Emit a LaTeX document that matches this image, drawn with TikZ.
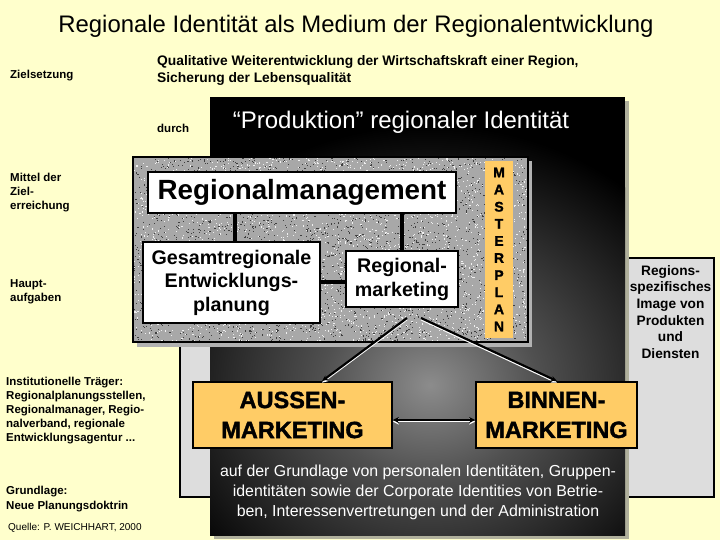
\documentclass[tikz,border=0pt]{standalone}
\usepackage{fontspec}
\setmainfont{Liberation Sans}
\newfontfamily\heavyf[FakeBold=1.6]{Liberation Sans Bold}
\usetikzlibrary{arrows.meta}
\definecolor{bgyellow}{HTML}{FFFFCC}
\definecolor{boxorange}{HTML}{FFCC66}
\definecolor{lgray}{HTML}{DDDDDD}
\definecolor{dshadow}{HTML}{B0B09C}
\definecolor{granite}{HTML}{A8A8A8}
\definecolor{glowc}{HTML}{8C8C8C}
\definecolor{glowm}{HTML}{505050}
\pgfdeclareradialshading{glow}{\pgfpoint{0bp}{0bp}}{color(0bp)=(glowc); color(9bp)=(glowm); color(25bp)=(black); color(50bp)=(black)}
\tikzset{
  lbl/.style={anchor=north west, inner sep=0pt, align=left, font=\bfseries\fontsize{11.5}{14.2}\selectfont},
  wbox/.style={draw=black, line width=1.8pt, fill=white, inner sep=0pt, font=\bfseries, align=center},
  obox/.style={draw=black, line width=1.8pt, fill=boxorange, inner sep=0pt, font=\heavyf\fontsize{23.5}{30}\selectfont, align=center},
  conn/.style={line width=4pt, black},
  hl/.style={white, line width=1.6pt, transform canvas={yshift=-1.6pt}},
  ln/.style={black, line width=2.2pt},
}
\begin{document}
\begin{tikzpicture}[x=1pt,y=-1pt]
\useasboundingbox (0,0) rectangle (720,540);
\fill[bgyellow] (0,0) rectangle (720,540);

% title
\node[inner sep=0pt, font=\fontsize{23.9}{28}\selectfont] (title) at (356,26) {Regionale Identität als Medium der Regionalentwicklung};

% left labels
\node[lbl] (ziel) at (10,69.5) {Zielsetzung};
\node[lbl] (mittel) at (10,172.5) {Mittel der\\Ziel-\\erreichung};
\node[lbl] (haupt) at (10,279.5) {Haupt-\\aufgaben};
\node[lbl] (inst) at (6,376.5) {Institutionelle Träger:\\Regionalplanungsstellen,\\Regionalmanager, Regio-\\nalverband, regionale\\Entwicklungsagentur ...};
\node[lbl, font=\bfseries\fontsize{11.5}{15}\selectfont] (grund) at (6,485.5) {Grundlage:\\Neue Planungsdoktrin};
\node[lbl, font=\fontsize{10}{12}\selectfont] (quelle) at (8,523) {Quelle: P. WEICHHART, 2000};

\node[lbl, font=\bfseries\fontsize{13.8}{17}\selectfont] (quali) at (157,55) {Qualitative Weiterentwicklung der Wirtschaftskraft einer Region,\\Sicherung der Lebensqualität};
\node[lbl] (durch) at (157,123.5) {durch};

% light gray frame
\filldraw[fill=lgray, draw=black, line width=1.8pt] (180,258) rectangle (714,497);

% dark box
\fill[dshadow] (214,101) rectangle (629,539);
\fill[black] (210,97) rectangle (625,535);
\begin{scope}
  \clip (210,97) rectangle (625,535);
  \shade[shading=glow] (430,385) ellipse [x radius=300pt, y radius=260pt];
\end{scope}
\node[inner sep=0pt, text=white, font=\fontsize{24}{28}\selectfont] (prod) at (401,122) {“Produktion” regionaler Identität};

% granite box
\fill[gray!60] (137,161) rectangle (532,347);
\fill[granite] (133,157) rectangle (528,342);
\begin{scope}
  \clip (133,157) rectangle (528,342);
  \pgfmathsetseed{7}
  \foreach \i in {1,...,2600}{
    \pgfmathsetmacro\px{133+395*rnd}
    \pgfmathsetmacro\py{157+185*rnd}
    \fill[gray!50!black] (\px,\py) rectangle ++(1.1,1.1);
  }
  \foreach \i in {1,...,2600}{
    \pgfmathsetmacro\px{133+395*rnd}
    \pgfmathsetmacro\py{157+185*rnd}
    \fill[gray!12] (\px,\py) rectangle ++(1.1,1.1);
  }
\end{scope}
\draw[black, line width=2pt] (133,157) rectangle (528,342);

% boxes in granite
\node[wbox, minimum width=308pt, minimum height=41pt, font=\bfseries\fontsize{27.8}{30}\selectfont] (rm) at (302,192.5) {Regionalmanagement};
\node[wbox, minimum width=177pt, minimum height=81pt, font=\bfseries\fontsize{19.7}{23.5}\selectfont] (ges) at (231.5,282.5) {Gesamtregionale\\Entwicklungs-\\planung};
\node[wbox, minimum width=112pt, minimum height=56pt, font=\bfseries\fontsize{19.7}{24}\selectfont] (rmk) at (402,279) {Regional-\\marketing};
\draw[conn] (rm.south -| 235,0) -- (235,0 |- ges.north);
\draw[conn] (rm.south -| 402,0) -- (rmk.north);
\draw[conn] (ges.east |- 0,282) -- (rmk.west |- 0,282);

% masterplan
\node[fill=boxorange, inner sep=0pt, minimum width=28pt, minimum height=177pt, align=center, font=\heavyf\fontsize{14}{17.1}\selectfont] (mp) at (499,249.5) {M\\A\\S\\T\\E\\R\\P\\L\\A\\N};

% marketing boxes
\node[obox, minimum width=199pt, minimum height=66pt] (aus) at (292.5,415) {AUSSEN-\\MARKETING};
\node[obox, minimum width=161pt, minimum height=66pt] (bin) at (556.5,415) {BINNEN-\\MARKETING};

% connectors
\coordinate (apL) at (407,318);
\coordinate (apR) at (421,318);
\draw[hl, -{Stealth[length=6pt,width=5pt]}] (apL) -- (322,0 |- aus.north);
\draw[ln, -{Stealth[length=6pt,width=5pt]}] (apL) -- (322,0 |- aus.north);
\draw[hl, -{Stealth[length=6pt,width=5pt]}] (apR) -- (557,0 |- bin.north);
\draw[ln, -{Stealth[length=6pt,width=5pt]}] (apR) -- (557,0 |- bin.north);
\draw[hl, {Stealth[length=6pt,width=6pt]}-{Stealth[length=6pt,width=6pt]}] (aus.east |- 0,420) -- (bin.west |- 0,420);
\draw[ln, {Stealth[length=6pt,width=6pt]}-{Stealth[length=6pt,width=6pt]}] (aus.east |- 0,420) -- (bin.west |- 0,420);

% regions text
\node[inner sep=0pt, align=center, font=\bfseries\fontsize{13.7}{16.6}\selectfont] (reg) at (670.5,312) {Regions-\\spezifisches\\Image von\\Produkten\\und\\Diensten};

% bottom text
\node[inner sep=0pt, align=center, text=white, font=\fontsize{15.9}{20}\selectfont] (basis) at (418,492) {auf der Grundlage von personalen Identitäten, Gruppen-\\identitäten sowie der Corporate Identities von Betrie-\\ben, Interessenvertretungen und der Administration};
\end{tikzpicture}
\end{document}
